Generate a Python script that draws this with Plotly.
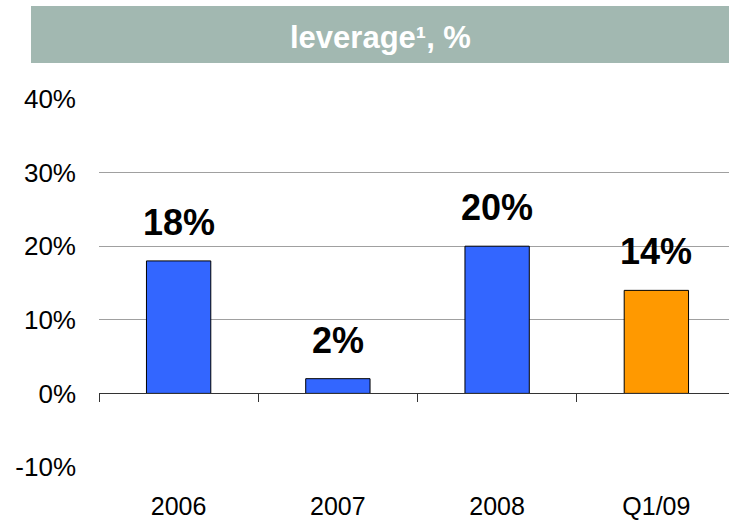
import plotly.graph_objects as go

categories = ["2006", "2007", "2008", "Q1/09"]
leverage = [18, 2, 20, 14]
bar_colors = ["#3366FF", "#3366FF", "#3366FF", "#FF9900"]
title_text = "leverage¹, %"
y_ticks = [-10, 0, 10, 20, 30, 40]
y_tick_labels = [f"{v}%" for v in y_ticks]

FONT = "Liberation Sans, Arial, sans-serif"
W, H = 729, 523
ML, MR, MT, MB = 99, 0, 99, 56

fig = go.Figure()
fig.add_trace(go.Bar(
    x=list(range(len(categories))), y=leverage, width=0.404,
    marker=dict(color=bar_colors, line=dict(color="#000000", width=1)),
    hoverinfo="skip", showlegend=False,
))

for i, v in enumerate(leverage):
    fig.add_annotation(x=i, y=v, xref="x", yref="y", text=f"<b>{v}%</b>",
                       showarrow=False, yanchor="bottom", yshift=16,
                       font=dict(family=FONT, size=36, color="#000000"))

# title banner (pixel -> paper conversion)
pw = W - ML - MR
ph = H - MT - MB
bx0 = (31 - ML) / pw
by0 = (H - MB - 63) / ph
by1 = (H - MB - 6) / ph
fig.add_shape(type="rect", xref="paper", yref="paper", x0=bx0, x1=1.02,
              y0=by0, y1=by1, fillcolor="#A2B8B1", line=dict(width=0), layer="above")
fig.add_annotation(xref="paper", yref="paper", x=(bx0 + 1) / 2, y=(by0 + by1) / 2,
                   yshift=-3,
                   text=f"<b>{title_text}</b>", showarrow=False,
                   xanchor="center", yanchor="middle",
                   font=dict(family=FONT, size=31, color="#FFFFFF"))

ymin, ymax = y_ticks[0], y_ticks[-1]
n = len(categories)
fig.update_layout(
    width=W, height=H,
    margin=dict(l=ML, r=MR, t=MT, b=MB, pad=0),
    paper_bgcolor="#FFFFFF", plot_bgcolor="#FFFFFF",
    font=dict(family=FONT, size=25, color="#000000"),
    xaxis=dict(
        range=[-0.5, n - 0.5 - 7 / 159.3],
        anchor="free", position=(0 - ymin) / (ymax - ymin),
        showline=True, linecolor="#333333", linewidth=1,
        ticks="outside", ticklen=8, tickcolor="#333333",
        tickvals=[i - 0.5 for i in range(n + 1)],
        ticktext=[""] * (n + 1),
        showgrid=False, zeroline=False,
    ),
    xaxis2=dict(
        overlaying="x", anchor="y", side="bottom",
        range=[-0.5, n - 0.5 - 7 / 159.3],
        tickvals=list(range(n)), ticktext=categories,
        ticks="", showline=False, showgrid=False, zeroline=False,
        ticklabelstandoff=22,
        tickfont=dict(family=FONT, size=25, color="#000000"),
    ),
    yaxis=dict(
        range=[ymin, ymax], tickvals=y_ticks, ticktext=y_tick_labels,
        showgrid=True, gridcolor="#A0A0A0", gridwidth=1,
        zeroline=False, showline=False, ticks="",
        ticklabelstandoff=22,
        tickfont=dict(family=FONT, size=26, color="#000000"),
    ),
)
# invisible helper so the bottom category axis is drawn
fig.add_trace(go.Scatter(x=list(range(n)), y=leverage, xaxis="x2", mode="markers",
                         marker=dict(opacity=0), hoverinfo="skip", showlegend=False))

fig.write_html("out.html", config={"displayModeBar": False},
               post_script="document.body.style.margin='0';")
